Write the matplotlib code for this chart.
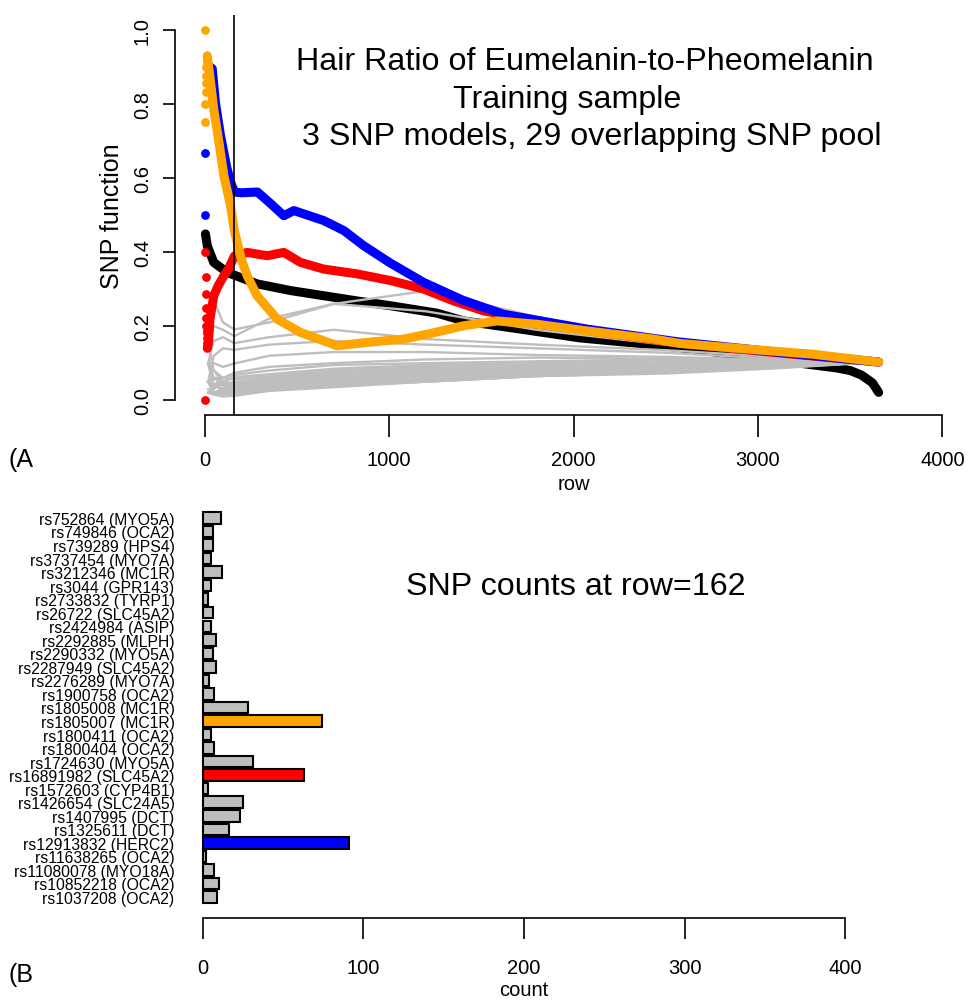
import matplotlib
matplotlib.use("Agg")
import matplotlib.pyplot as plt
import numpy as np

plt.rcParams['font.family'] = ['Liberation Sans', 'DejaVu Sans']

# ---------------- Panel A data ----------------
blue_rows = [30, 42, 60, 87, 120, 141, 162, 200, 287, 360, 430, 484, 592, 646, 755, 863, 1008,
             1188, 1400, 1621, 2073, 2560, 3000, 3300, 3654]
blue_vals = [0.90, 0.895, 0.80, 0.714, 0.63, 0.589, 0.562, 0.56, 0.562, 0.53, 0.498, 0.512, 0.494,
             0.485, 0.458, 0.417, 0.37, 0.318, 0.27, 0.232, 0.192, 0.158, 0.135, 0.12, 0.103]
blue_pts_rows = [2, 3]
blue_pts_vals = [0.5, 0.667]

red_rows = [15, 20, 30, 50, 75, 105, 130, 162, 231, 340, 430, 520, 646, 827, 1008, 1188, 1350,
            1513, 2073, 2560, 3000, 3654]
red_vals = [0.14, 0.15, 0.22, 0.282, 0.31, 0.336, 0.355, 0.389, 0.399, 0.39, 0.399, 0.372, 0.354,
            0.341, 0.323, 0.30, 0.268, 0.241, 0.188, 0.155, 0.133, 0.103]
red_pts_rows = [1, 5, 6, 7, 8, 9, 10, 11, 12, 13, 14, 16, 18]
red_pts_vals = [0.0, 0.4, 0.333, 0.286, 0.25, 0.222, 0.2, 0.182, 0.167, 0.154, 0.143, 0.188, 0.167]

black_rows = [5, 15, 50, 123, 285, 466, 646, 827, 1008, 1260, 1405, 1712, 2037, 2470, 2800,
              3100, 3427, 3500, 3560, 3620, 3654]
black_vals = [0.449, 0.417, 0.372, 0.345, 0.314, 0.296, 0.282, 0.268, 0.255, 0.235, 0.214, 0.192,
              0.168, 0.148, 0.128, 0.108, 0.087, 0.08, 0.068, 0.047, 0.021]

orange_rows = [15, 30, 50, 80, 105, 141, 162, 200, 231, 285, 394, 520, 719, 881, 1080, 1224,
               1405, 1586, 1802, 2073, 2434, 2578, 2940, 3301, 3654]
orange_vals = [0.93, 0.87, 0.786, 0.69, 0.606, 0.525, 0.457, 0.38, 0.336, 0.282, 0.219, 0.183,
               0.147, 0.156, 0.165, 0.18, 0.201, 0.214, 0.205, 0.187, 0.165, 0.153, 0.138, 0.124,
               0.103]
orange_pts_rows = [1, 4, 5, 6, 7, 8, 10, 12]
orange_pts_vals = [1.0, 0.75, 0.8, 0.833, 0.857, 0.875, 0.9, 0.917]

gray_rows = [20, 50, 100, 162, 350, 700, 1200, 1800, 2500, 3100, 3654]
gray_vals = [
    [0.20, 0.27, 0.21, 0.191, 0.21, 0.26, 0.295, 0.225, 0.16, 0.125, 0.103],
    [0.15, 0.20, 0.19, 0.173, 0.22, 0.26, 0.24, 0.19, 0.15, 0.12, 0.103],
    [0.10, 0.16, 0.17, 0.154, 0.17, 0.19, 0.165, 0.15, 0.135, 0.117, 0.103],
    [0.05, 0.12, 0.14, 0.136, 0.15, 0.16, 0.15, 0.14, 0.128, 0.112, 0.103],
    [0.10, 0.10, 0.09, 0.099, 0.12, 0.13, 0.13, 0.122, 0.117, 0.109, 0.103],
    [0.05, 0.04, 0.06, 0.074, 0.09, 0.10, 0.11, 0.115, 0.112, 0.106, 0.103],
    [0.10, 0.06, 0.06, 0.068, 0.08, 0.095, 0.10, 0.105, 0.11, 0.107, 0.103],
    [0.05, 0.03, 0.05, 0.062, 0.07, 0.085, 0.095, 0.10, 0.105, 0.104, 0.103],
    [0.10, 0.08, 0.06, 0.056, 0.065, 0.08, 0.09, 0.095, 0.10, 0.102, 0.103],
    [0.05, 0.04, 0.045, 0.049, 0.06, 0.075, 0.085, 0.09, 0.095, 0.10, 0.103],
    [0.10, 0.06, 0.04, 0.043, 0.055, 0.07, 0.08, 0.088, 0.095, 0.10, 0.103],
    [0.05, 0.06, 0.05, 0.043, 0.05, 0.065, 0.075, 0.085, 0.09, 0.098, 0.103],
    [0.15, 0.08, 0.05, 0.043, 0.05, 0.06, 0.07, 0.08, 0.088, 0.097, 0.103],
    [0.02, 0.02, 0.03, 0.043, 0.055, 0.065, 0.075, 0.085, 0.092, 0.098, 0.103],
    [0.05, 0.04, 0.04, 0.037, 0.05, 0.06, 0.07, 0.08, 0.09, 0.097, 0.103],
    [0.10, 0.04, 0.03, 0.037, 0.045, 0.055, 0.065, 0.075, 0.085, 0.095, 0.103],
    [0.05, 0.06, 0.045, 0.037, 0.04, 0.05, 0.06, 0.072, 0.085, 0.095, 0.103],
    [0.02, 0.02, 0.03, 0.037, 0.045, 0.055, 0.065, 0.075, 0.085, 0.095, 0.103],
    [0.05, 0.02, 0.025, 0.031, 0.04, 0.05, 0.06, 0.07, 0.08, 0.092, 0.103],
    [0.05, 0.04, 0.03, 0.031, 0.035, 0.045, 0.055, 0.068, 0.08, 0.092, 0.103],
    [0.10, 0.04, 0.03, 0.031, 0.04, 0.05, 0.06, 0.07, 0.082, 0.094, 0.103],
    [0.02, 0.02, 0.03, 0.031, 0.035, 0.045, 0.055, 0.067, 0.078, 0.09, 0.103],
    [0.05, 0.02, 0.02, 0.025, 0.035, 0.045, 0.055, 0.066, 0.078, 0.09, 0.103],
    [0.03, 0.02, 0.02, 0.019, 0.03, 0.04, 0.05, 0.065, 0.075, 0.088, 0.103],
    [0.05, 0.02, 0.015, 0.019, 0.03, 0.04, 0.05, 0.065, 0.075, 0.088, 0.103],
    [0.02, 0.015, 0.01, 0.012, 0.025, 0.035, 0.05, 0.065, 0.072, 0.086, 0.103],
]
cut_row = 162

title_lines = ["Hair Ratio of Eumelanin-to-Pheomelanin", "Training sample",
               "3 SNP models, 29 overlapping SNP pool"]

# ---------------- Panel B data ----------------
snp_labels = ["rs752864 (MYO5A)", "rs749846 (OCA2)", "rs739289 (HPS4)", "rs3737454 (MYO7A)",
              "rs3212346 (MC1R)", "rs3044 (GPR143)", "rs2733832 (TYRP1)", "rs26722 (SLC45A2)",
              "rs2424984 (ASIP)", "rs2292885 (MLPH)", "rs2290332 (MYO5A)", "rs2287949 (SLC45A2)",
              "rs2276289 (MYO7A)", "rs1900758 (OCA2)", "rs1805008 (MC1R)", "rs1805007 (MC1R)",
              "rs1800411 (OCA2)", "rs1800404 (OCA2)", "rs1724630 (MYO5A)", "rs16891982 (SLC45A2)",
              "rs1572603 (CYP4B1)", "rs1426654 (SLC24A5)", "rs1407995 (DCT)", "rs1325611 (DCT)",
              "rs12913832 (HERC2)", "rs11638265 (OCA2)", "rs11080078 (MYO18A)", "rs10852218 (OCA2)",
              "rs1037208 (OCA2)"]
snp_counts = [11, 6, 6, 5, 12, 5, 3, 6, 5, 8, 6, 8, 4, 7, 28, 74, 5, 7, 31, 63, 3, 25, 23, 16,
              91, 2, 7, 10, 9]
bar_colors = {"rs1805007 (MC1R)": "#FFA500", "rs16891982 (SLC45A2)": "#FF0000",
              "rs12913832 (HERC2)": "#0000FF"}

W, H = 970, 1003
fig = plt.figure(figsize=(W / 100, H / 100), dpi=100)

def fx(px):
    return px / W

def fy(py):
    return 1 - py / H

# ---------------- Panel A ----------------
ax1 = fig.add_axes([fx(175), fy(416), fx(972) - fx(175), fy(16) - fy(416)])
ax1.set_xlim(-160, 4160)
ax1.set_ylim(-0.04, 1.04)
ax1.plot(black_rows, black_vals, color='black', lw=6.5, solid_capstyle='round',
         solid_joinstyle='round', zorder=2)
for g in gray_vals:
    ax1.plot(gray_rows, g, color='#BEBEBE', lw=1.7, zorder=3)
ax1.plot(red_rows, red_vals, color='#FF0000', lw=6.5, solid_capstyle='round',
         solid_joinstyle='round', zorder=4)
ax1.scatter(red_pts_rows, red_pts_vals, s=28, color='#FF0000', zorder=4)
ax1.plot(blue_rows, blue_vals, color='#0000FF', lw=6.5, solid_capstyle='round',
         solid_joinstyle='round', zorder=5)
ax1.scatter(blue_pts_rows, blue_pts_vals, s=28, color='#0000FF', zorder=5)
ax1.plot(orange_rows, orange_vals, color='#FFA500', lw=6.5, solid_capstyle='round',
         solid_joinstyle='round', zorder=6)
ax1.scatter(orange_pts_rows, orange_pts_vals, s=28, color='#FFA500', zorder=6)
ax1.axvline(cut_row, color='black', lw=1.2, zorder=7)

for s in ['top', 'right']:
    ax1.spines[s].set_visible(False)
ax1.spines['left'].set_bounds(0, 1)
ax1.spines['bottom'].set_bounds(0, 4000)
for s in ['left', 'bottom']:
    ax1.spines[s].set_linewidth(1.2)
ax1.set_xticks([0, 1000, 2000, 3000, 4000])
ax1.set_yticks([0, 0.2, 0.4, 0.6, 0.8, 1.0])
ax1.set_yticklabels(["0.0", "0.2", "0.4", "0.6", "0.8", "1.0"], rotation=90, va='center')
ax1.tick_params(axis='x', length=16, width=1.2, pad=9, labelsize=14.5)
ax1.tick_params(axis='y', length=8.6, width=1.2, pad=8, labelsize=14.5)
ax1.set_xlabel("row", fontsize=14.5, labelpad=4)
ax1.set_ylabel("SNP function", fontsize=18)
ax1.yaxis.set_label_coords(-(175 - 124) / (972 - 175), 0.5)

centers = [585, 567, 592]
ys = [62, 100, 137]
for t, cx, cy in zip(title_lines, centers, ys):
    fig.text(fx(cx), fy(cy), t, ha='center', va='center', fontsize=23.2)
fig.text(fx(8), fy(460), "(A", ha='left', va='center', fontsize=18)

# ---------------- Panel B ----------------
n = len(snp_labels)
ypos = np.arange(n)[::-1]  # first label at top
ax2 = fig.add_axes([fx(177.3), fy(919), fx(870.7) - fx(177.3), fy(500) - fy(919)])
colors = [bar_colors.get(l, '#BEBEBE') for l in snp_labels]
ax2.barh(ypos, snp_counts, height=0.85, color=colors, edgecolor='black', linewidth=1.5)
ax2.set_xlim(-16, 416)
ax2.set_ylim(-1.55, 29.4)
ax2.set_yticks(ypos)
ax2.set_yticklabels(snp_labels, fontsize=11.3)
ax2.tick_params(axis='y', length=0, pad=2)
for s in ['top', 'right', 'left']:
    ax2.spines[s].set_visible(False)
ax2.spines['bottom'].set_bounds(0, 400)
ax2.spines['bottom'].set_linewidth(1.2)
ax2.set_xticks([0, 100, 200, 300, 400])
ax2.tick_params(axis='x', length=15, width=1.2, pad=14, labelsize=14.5)
ax2.set_xlabel("count", fontsize=14.5, labelpad=2)
fig.text(fx(576), fy(587), "SNP counts at row=162", ha='center', va='center', fontsize=23.2)
fig.text(fx(8), fy(975), "(B", ha='left', va='center', fontsize=18)

fig.savefig("out.png", dpi=100)
